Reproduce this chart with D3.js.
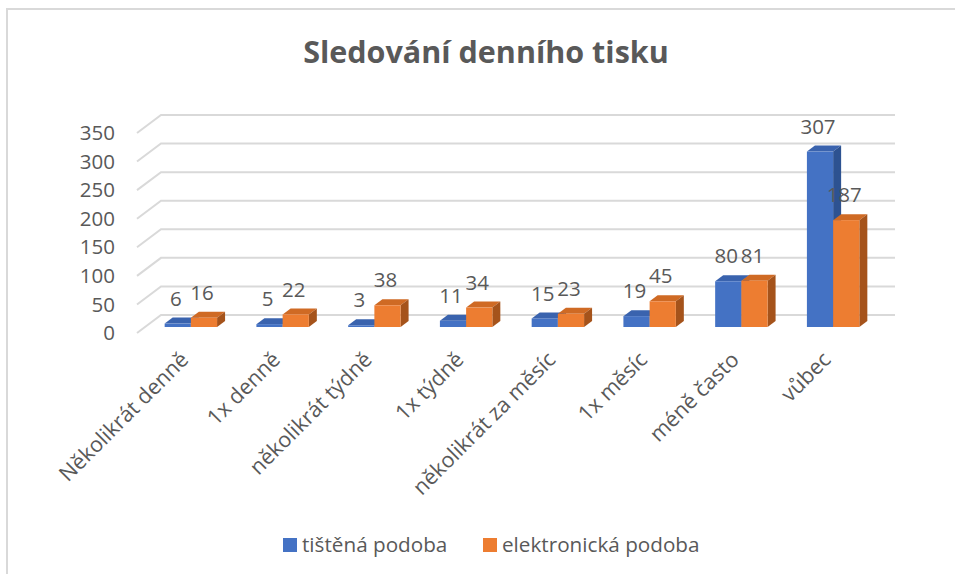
<!DOCTYPE html>
<html>
<head>
<meta charset="utf-8">
<script src="https://cdn.jsdelivr.net/npm/d3@7"></script>
<style>
  body { margin: 0; background: #fff; }
  svg text { font-family: "Open Sans", sans-serif; fill: #595959; }
</style>
</head>
<body>
<div id="chartDiv"></div>
<script>
// data
var categories = ["Několikrát denně", "1x denně", "několikrát týdně", "1x týdně",
                  "několikrát za měsíc", "1x měsíc", "méně často", "vůbec"];
var seriesNames = ["tištěná podoba", "elektronická podoba"];
var printed = [6, 5, 3, 11, 15, 19, 80, 307];
var electronic = [16, 22, 38, 34, 23, 45, 81, 187];
var yTicks = [0, 50, 100, 150, 200, 250, 300, 350];

var colors = ["#4472C4", "#ED7D31"];
var topColors = ["#3A63AE", "#CF6A24"];
var sideColors = ["#2D5291", "#A5531B"];

var width = 955, height = 574;

var svg = d3.select("#chartDiv").append("svg")
    .attr("width", width)
    .attr("height", height);

// frame (only left and top edge fall inside the picture)
svg.append("path")
    .attr("d", "M7,574 L7,9 L955,9")
    .attr("fill", "none")
    .attr("stroke", "#D9D9D9")
    .attr("stroke-width", 2);

// title
svg.append("text")
    .attr("x", 486).attr("y", 63)
    .attr("text-anchor", "middle")
    .style("font-size", "30.5px")
    .style("font-weight", "bold")
    .text("Sledování denního tisku");

// 3d geometry: front-left corner of floor and depth vector
var frontLeft = 137, frontRight = 871;
var depth = { x: 24, y: -18 };

var y = d3.scaleLinear().domain([0, 350]).range([333, 133]);

var x = d3.scaleBand()
    .domain(categories)
    .range([frontLeft, frontRight])
    .paddingInner(1.5 / 3.5)
    .paddingOuter(0.75 / 3.5);

var xs = d3.scaleBand().domain(seriesNames).range([0, x.bandwidth()]);

// gridlines: side wall diagonal + back wall horizontal
var grid = svg.append("g").attr("stroke", "#D9D9D9").attr("stroke-width", 2).attr("fill", "none");
yTicks.forEach(function (t) {
    var yy = y(t);
    grid.append("path")
        .attr("d", "M" + frontLeft + "," + yy +
                   " L" + (frontLeft + depth.x) + "," + (yy + depth.y) +
                   " L" + (frontRight + depth.x) + "," + (yy + depth.y));
});

// y tick labels
svg.append("g").selectAll("text")
    .data(yTicks)
    .enter().append("text")
    .attr("x", 115)
    .attr("y", function (d) { return y(d); })
    .attr("dy", "0.35em")
    .attr("text-anchor", "end")
    .style("font-size", "20.5px")
    .text(function (d) { return d; });

// bars sit in the middle third of the floor depth
var f0 = 1 / 3, f1 = 2 / 3;
var bx = depth.x * f0, by = depth.y * f0;
var dx = depth.x * (f1 - f0), dy = depth.y * (f1 - f0);

var seriesData = [printed, electronic];
var bars = svg.append("g");
categories.forEach(function (c, i) {
    seriesData.forEach(function (vals, s) {
        var v = vals[i];
        var x0 = x(c) + xs(seriesNames[s]) + bx;
        var x1 = x0 + xs.bandwidth();
        var yb = y(0) + by, yt = y(v) + by;
        var g = bars.append("g");
        // top face
        g.append("path")
            .attr("d", "M" + x0 + "," + yt + " L" + (x0 + dx) + "," + (yt + dy) +
                       " L" + (x1 + dx) + "," + (yt + dy) + " L" + x1 + "," + yt + "Z")
            .attr("fill", topColors[s]);
        // side face
        g.append("path")
            .attr("d", "M" + x1 + "," + yt + " L" + (x1 + dx) + "," + (yt + dy) +
                       " L" + (x1 + dx) + "," + (yb + dy) + " L" + x1 + "," + yb + "Z")
            .attr("fill", sideColors[s]);
        // front face
        g.append("rect")
            .attr("x", x0).attr("y", yt)
            .attr("width", x1 - x0).attr("height", yb - yt)
            .attr("fill", colors[s]);
    });
});

// data labels
categories.forEach(function (c, i) {
    seriesData.forEach(function (vals, s) {
        var v = vals[i];
        var cx = x(c) + xs(seriesNames[s]) + xs.bandwidth() / 2 + bx - 2;
        svg.append("text")
            .attr("x", cx)
            .attr("y", y(v) + by - 25)
            .attr("dy", "0.35em")
            .attr("text-anchor", "middle")
            .style("font-size", "20.5px")
            .text(v);
    });
});

// category labels, rotated
svg.append("g").selectAll("text")
    .data(categories)
    .enter().append("text")
    .attr("transform", function (d) {
        var cx = x(d) + x.bandwidth() / 2 + 7;
        return "translate(" + cx + ",361) rotate(-45)";
    })
    .attr("text-anchor", "end")
    .style("font-size", "21.5px")
    .text(function (d) { return d; });

// legend
var legendX = [283, 483];
var legend = svg.append("g");
seriesNames.forEach(function (n, s) {
    legend.append("rect")
        .attr("x", legendX[s]).attr("y", 538)
        .attr("width", 14).attr("height", 14)
        .attr("fill", colors[s]);
    legend.append("text")
        .attr("x", legendX[s] + 19).attr("y", 545)
        .attr("dy", "0.35em")
        .style("font-size", "20.7px")
        .text(n);
});
</script>
</body>
</html>
